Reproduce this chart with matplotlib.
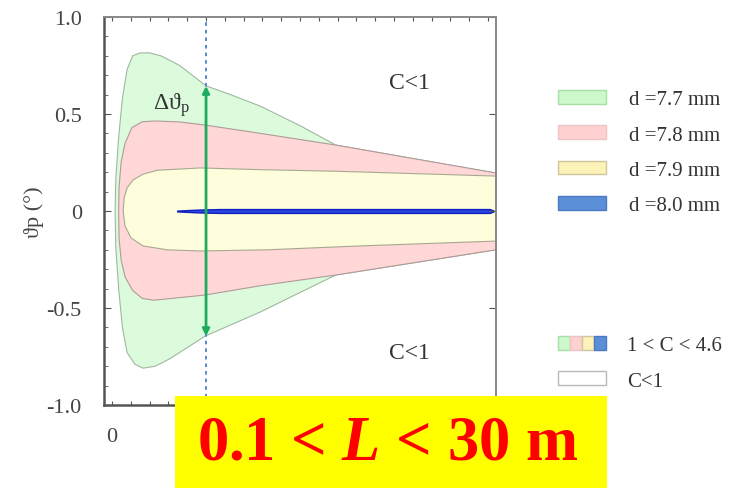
import matplotlib
matplotlib.use("Agg")
import matplotlib.pyplot as plt
import numpy as np
from matplotlib.patches import Patch, Rectangle
from matplotlib.legend_handler import HandlerTuple

plt.rcParams['font.family'] = ['Liberation Serif', 'DejaVu Serif']
plt.rcParams['mathtext.fontset'] = 'custom'
plt.rcParams['mathtext.rm'] = 'Liberation Serif'
plt.rcParams['mathtext.it'] = 'Liberation Serif:italic'
plt.rcParams['mathtext.bfit'] = 'Liberation Serif:italic:bold'

# ---- data (x in axis units, y = theta_p in degrees) ----
green_top_x = [0.16, 0.2, 0.35, 0.55, 0.8, 1.1, 1.5, 2.0, 2.6, 3.6, 5.0, 6.3, 7.9, 10.0, 11.9, 20.43]
green_top_y = [0.0, 0.17, 0.38, 0.58, 0.73, 0.80, 0.815, 0.815, 0.80, 0.75, 0.645, 0.60, 0.54, 0.44, 0.34, 0.195]
green_bot_x = [0.16, 0.2, 0.35, 0.55, 0.8, 1.22, 1.65, 2.3, 3.1, 4.95, 7.9, 10.0, 11.9, 20.43]
green_bot_y = [0.0, -0.19, -0.40, -0.60, -0.73, -0.79, -0.81, -0.80, -0.76, -0.645, -0.52, -0.42, -0.33, -0.20]

pink_top_x = [0.35, 0.37, 0.48, 0.69, 1.06, 1.6, 2.3, 3.6, 4.95, 7.9, 11.9, 20.43]
pink_top_y = [0.0, 0.12, 0.25, 0.35, 0.43, 0.46, 0.464, 0.459, 0.443, 0.40, 0.34, 0.196]
pink_bot_x = [0.35, 0.37, 0.48, 0.69, 1.1, 1.6, 2.2, 4.95, 7.9, 11.9, 20.43]
pink_bot_y = [0.0, -0.14, -0.25, -0.34, -0.41, -0.45, -0.46, -0.433, -0.385, -0.33, -0.20]

yel_top_x = [0.59, 0.64, 0.8, 1.12, 1.65, 2.4, 4.7, 7.9, 11.9, 20.43]
yel_top_y = [0.0, 0.067, 0.12, 0.16, 0.19, 0.21, 0.222, 0.213, 0.205, 0.18]
yel_bot_x = [0.59, 0.69, 1.01, 1.65, 2.93, 4.68, 8.24, 13.2, 20.43]
yel_bot_y = [0.0, -0.077, -0.139, -0.18, -0.20, -0.206, -0.20, -0.18, -0.155]

blue_x = [3.46, 4.5, 5.7, 20.1, 20.3]
blue_half = [0.002, 0.007, 0.010, 0.010, 0.002]

marker_x = 5.0          # dashed line / arrow position
arrow_span = 0.645      # half height of the delta-theta arrow

labels = ['d =7.7 mm', 'd =7.8 mm', 'd =7.9 mm', 'd =8.0 mm']
fill_cols = ['#dcfbdc', '#ffd7d7', '#fefedc', '#2a46e0']
legend_cols = ['#ccf8cc', '#ffd0d0', '#fdf2b8', '#5b8fd8']
legend_edges = ['#a8e0a8', '#ecc4c4', '#cfc6a0', '#4a7ac0']

y_ticks = [-1.0, -0.5, 0, 0.5, 1.0]
y_tick_labels = ['-1.0', '-0.5', '0', '0.5', '1.0']

fig = plt.figure(figsize=(7.46, 4.89), dpi=100)
ax = fig.add_axes([0.1394, 0.1697, 0.5255, 0.7935])

def region(tx, ty, bx, by, fc, ec='#a0a0a0'):
    xs = list(tx) + list(bx)[::-1]
    ys = list(ty) + list(by)[::-1]
    ax.fill(xs, ys, facecolor=fc, edgecolor=ec, linewidth=0.8)

region(green_top_x, green_top_y, green_bot_x, green_bot_y, fill_cols[0], '#9fb89f')
region(pink_top_x, pink_top_y, pink_bot_x, pink_bot_y, fill_cols[1], '#b09a9a')
region(yel_top_x, yel_top_y, yel_bot_x, yel_bot_y, fill_cols[2], '#a8a890')
bh = np.array(blue_half)
ax.fill_between(blue_x, -bh, bh, facecolor=fill_cols[3], edgecolor='#1020c0', linewidth=1.0)

ax.axvline(marker_x, color='#4a7fd0', linestyle=(0, (2, 2.2)), linewidth=1.3)
ax.annotate('', xy=(marker_x, arrow_span), xytext=(marker_x, -arrow_span),
            arrowprops=dict(arrowstyle='<|-|>', color='#1eab5e', lw=2.0,
                            mutation_scale=10, shrinkA=0, shrinkB=0))
ax.text(2.2, 0.55, 'Δϑ$_\\mathrm{p}$', fontsize=17, color='#333333', va='center')
ax.text(15.8, 0.66, 'C<1', fontsize=17, color='#333333', ha='center', va='center')
ax.text(15.8, -0.73, 'C<1', fontsize=17, color='#333333', ha='center', va='center')

ax.set_xlim(-0.43, 20.43)
ax.set_ylim(-1.0, 1.0)
ax.set_yticks(y_ticks)
ax.set_yticklabels(y_tick_labels)
ax.set_yticks(np.arange(-1.0, 1.01, 0.1), minor=True)
ax.set_xticks(range(21))
ax.set_xticklabels(['0'] + [''] * 20)
ax.tick_params(which='both', direction='in', top=True, right=True, colors='#555555',
               labelcolor='#444444', labelsize=16)
ax.tick_params(axis='y', which='major', length=5, pad=16)
ax.tick_params(axis='y', which='minor', length=3, right=False)
ax.tick_params(axis='x', which='major', length=3, pad=16)
for side, sp in ax.spines.items():
    sp.set_color('#555555' if side in ('left', 'bottom') else '#888888')
    sp.set_linewidth(1.8 if side in ('left', 'bottom') else 1.4)
ax.set_ylabel('ϑp (°)', fontsize=16, color='#444444', labelpad=2)

# legends
h1 = [Patch(facecolor=c, edgecolor=e, linewidth=1) for c, e in zip(legend_cols, legend_edges)]
leg1 = fig.legend(h1, labels, loc='upper left', bbox_to_anchor=(0.748, 0.814),
                  frameon=False, fontsize=15, handlelength=2.3, handleheight=0.65,
                  labelspacing=0.77, handletextpad=1.1, borderpad=0, borderaxespad=0)
for t in leg1.get_texts():
    t.set_color('#333333')
h2 = [tuple(Patch(facecolor=c, edgecolor=e, linewidth=1) for c, e in zip(legend_cols, legend_edges)),
      Patch(facecolor='white', edgecolor='#b8b8b8', linewidth=1)]
leg2 = fig.legend(h2, ['1 < C < 4.6', 'C<1'], loc='upper left', bbox_to_anchor=(0.748, 0.311),
                  frameon=False, fontsize=15, handlelength=2.3, handleheight=0.65,
                  labelspacing=0.77, handletextpad=1.0, borderpad=0, borderaxespad=0,
                  handler_map={tuple: HandlerTuple(ndivide=None, pad=0)})
for t in leg2.get_texts():
    t.set_color('#333333')

# yellow banner
fig.patches.append(Rectangle((175 / 746, 0), 432 / 746, 92 / 489, transform=fig.transFigure,
                             facecolor='#ffff00', edgecolor='none', zorder=5))
fig.text(0.52, 0.092, '0.1 < $\\mathbfit{L}$ < 30 m', fontsize=45, fontweight='bold',
         color='#ff0000', ha='center', va='center', zorder=6)

fig.savefig('out.png', dpi=100)
